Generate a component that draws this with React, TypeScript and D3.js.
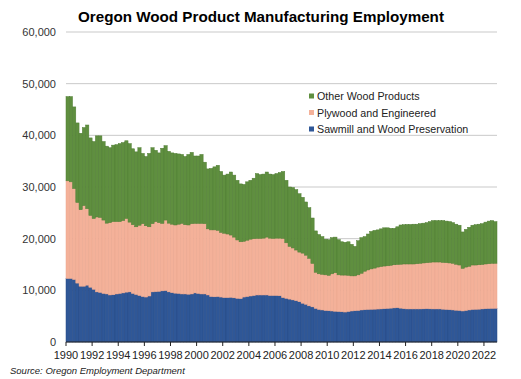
import React, { useEffect } from "react";
import * as d3 from "d3";

const START_YEAR = 1990;
const QUARTERS_PER_YEAR = 4;

const sawmill = [
  12300, 12300, 12100, 11400, 10800, 10800, 11000, 10600, 10200, 9700, 9600, 9400,
  9300, 9100, 9150, 9300, 9400, 9500, 9650, 9700, 9400, 9200, 9000, 8800,
  8700, 8900, 9700, 9750, 9800, 9900, 9950, 9700, 9550, 9450, 9400, 9300,
  9300, 9250, 9300, 9500, 9400, 9300, 9300, 9100, 8800, 8750, 8800, 8700,
  8600, 8600, 8650, 8550, 8450, 8400, 8700, 8800, 8900, 9000, 9100, 9100,
  9100, 9100, 9000, 9000, 9000, 8950, 8600, 8450, 8300, 8150, 8000, 7800,
  7500, 7300, 7000, 6800, 6500, 6300, 6200, 6100, 6050, 6000, 5950, 5900,
  5850, 5800, 5900, 6000, 6050, 6100, 6200, 6250, 6300, 6330, 6350, 6380,
  6400, 6450, 6500, 6550, 6600, 6640, 6550, 6450, 6400, 6400, 6400, 6400,
  6400, 6420, 6450, 6420, 6400, 6400, 6400, 6350, 6300, 6250, 6200, 6150,
  6100, 6000, 6100, 6200, 6300, 6330, 6350, 6400, 6450, 6480, 6500, 6520,
];

const plywood = [
  18900, 18700, 17600, 15600, 14800, 15600, 14800, 13900, 13700, 14500, 14500, 14200,
  13700, 14000, 14150, 14000, 13900, 14000, 14250, 13500, 13300, 13100, 13600, 14100,
  13800, 13400, 13200, 13550, 13300, 13050, 13650, 13300, 13250, 13200, 13400, 13650,
  13400, 13400, 13600, 13450, 13550, 13650, 13600, 12800, 12900, 12950, 12800, 12500,
  12450, 12300, 12050, 11750, 11300, 11000, 10800, 10900, 11000, 11000, 10950, 10950,
  11000, 11200, 11100, 11050, 11100, 11150, 11450, 10750, 10200, 10050, 9800, 9600,
  9700, 9500, 9200, 8400, 7000, 6900, 6900, 6900, 6850, 7200, 7450, 7100,
  7100, 7150, 7000, 6800, 6750, 6900, 7100, 7450, 7650, 7820, 7950, 8120,
  8200, 8250, 8250, 8300, 8350, 8360, 8500, 8650, 8700, 8700, 8700, 8750,
  8830, 8880, 8900, 9000, 9080, 9080, 9080, 9050, 9050, 9050, 9030, 8900,
  8800, 8250, 8400, 8450, 8600, 8570, 8600, 8600, 8650, 8670, 8730, 8710,
];

const otherWood = [
  16300, 16500, 15800, 15400, 14800, 15100, 16200, 15000, 14900, 15700, 15800, 15200,
  14900, 14500, 14800, 14900, 15100, 15100, 15050, 15200, 14700, 14500, 15000, 13600,
  13400, 14200, 14700, 13800, 13500, 14550, 14400, 13900, 13800, 13850, 13600, 13350,
  13200, 13650, 13800, 13050, 13050, 13350, 11900, 11600, 11900, 12200, 12600, 11800,
  11250, 11600, 12200, 12000, 11550, 11200, 11000, 11300, 11400, 11700, 12550, 12350,
  12400, 12600, 12400, 12350, 12500, 12700, 12950, 12100, 11500, 11700, 11700, 11300,
  10800, 10300, 9800, 8800, 8000, 7600, 7300, 6900, 6900, 7000, 6900, 6800,
  6450, 6350, 6500, 6100, 5700, 6600, 6900, 6700, 6950, 7250, 7300, 7200,
  7300, 7400, 7350, 7150, 7050, 7300, 7600, 7600, 7650, 7650, 7700, 7650,
  7670, 7700, 7750, 7880, 8020, 8020, 8020, 8100, 8050, 8000, 7870, 7750,
  7700, 7050, 7300, 7550, 7700, 7800, 7850, 7900, 8100, 8250, 8270, 8070,
];

const seriesKeys = ["sawmill", "plywood", "other"];
const seriesLabels = ["Sawmill and Wood Preservation", "Plywood and Engineered", "Other Wood Products"];
const yTicks = [0, 10000, 20000, 30000, 40000, 50000, 60000];
const xTickYears = [1990, 1992, 1994, 1996, 1998, 2000, 2002, 2004, 2006, 2008, 2010, 2012, 2014, 2016, 2018, 2020, 2022];

const fills: Record<string, string> = { sawmill: "#2f5797", plywood: "#f4b199", other: "#5f8f3f" };
const strokes: Record<string, string> = { sawmill: "#274a85", plywood: "#e9a68e", other: "#4f7d33" };

const W = 521;
const H = 379;
const M = { left: 66, right: 497, top: 32, bottom: 342 };

export default function App() {
  useEffect(() => {
    document.body.style.margin = "0";
  }, []);

  const rows = sawmill.map((s, i) => ({
    year: START_YEAR + i / QUARTERS_PER_YEAR,
    sawmill: s,
    plywood: plywood[i],
    other: otherWood[i],
  }));

  const endYear = START_YEAR + rows.length / QUARTERS_PER_YEAR;
  const x = d3.scaleLinear().domain([START_YEAR, endYear]).range([M.left, M.right]);
  const y = d3.scaleLinear().domain([0, 60000]).range([M.bottom, M.top]);
  const stacked = d3.stack<any>().keys(seriesKeys)(rows);
  const fmt = d3.format(",");
  const font = "Arial, 'Liberation Sans', sans-serif";

  return (
    <svg width={W} height={H} style={{ display: "block", background: "#fff" }} fontFamily={font}>
      <text x={261} y={22} textAnchor="middle" fontSize={15.2} fontWeight="bold" fill="#000">
        Oregon Wood Product Manufacturing Employment
      </text>
      {yTicks.map((t) => (
        <g key={t}>
          {t > 0 && (
            <line x1={M.left} x2={M.right} y1={y(t)} y2={y(t)} stroke="#c9c9c9" strokeWidth={1} />
          )}
          <text x={56} y={y(t) + 4} textAnchor="end" fontSize={11} fill="#333">
            {fmt(t)}
          </text>
        </g>
      ))}
      {stacked.map((layer) => (
        <g key={layer.key}>
          {layer.map((d, i) => (
            <rect
              key={i}
              x={x(d.data.year)}
              width={x(d.data.year + 1 / QUARTERS_PER_YEAR) - x(d.data.year)}
              y={y(d[1])}
              height={y(d[0]) - y(d[1])}
              fill={fills[layer.key]}
              stroke={strokes[layer.key]}
              strokeWidth={0.5}
            />
          ))}
        </g>
      ))}
      <line x1={M.left} x2={M.right} y1={M.bottom} y2={M.bottom} stroke="#222" strokeWidth={1.2} />
      {xTickYears.map((yr) => (
        <g key={yr}>
          <line x1={x(yr)} x2={x(yr)} y1={M.bottom} y2={M.bottom + 4} stroke="#222" strokeWidth={1} />
          <text x={x(yr)} y={359} textAnchor="middle" fontSize={11} fill="#222">
            {yr}
          </text>
        </g>
      ))}
      {[2, 1, 0].map((k, j) => (
        <g key={k} transform={`translate(309, ${96 + j * 16.5})`}>
          <rect x={0} y={-2.5} width={5} height={5} fill={fills[seriesKeys[k]]} />
          <text x={8} y={4} fontSize={10.7} fill="#222">
            {seriesLabels[k]}
          </text>
        </g>
      ))}
      <text x={10} y={374} fontSize={9.5} fontStyle="italic" fill="#222">
        Source: Oregon Employment Department
      </text>
    </svg>
  );
}
